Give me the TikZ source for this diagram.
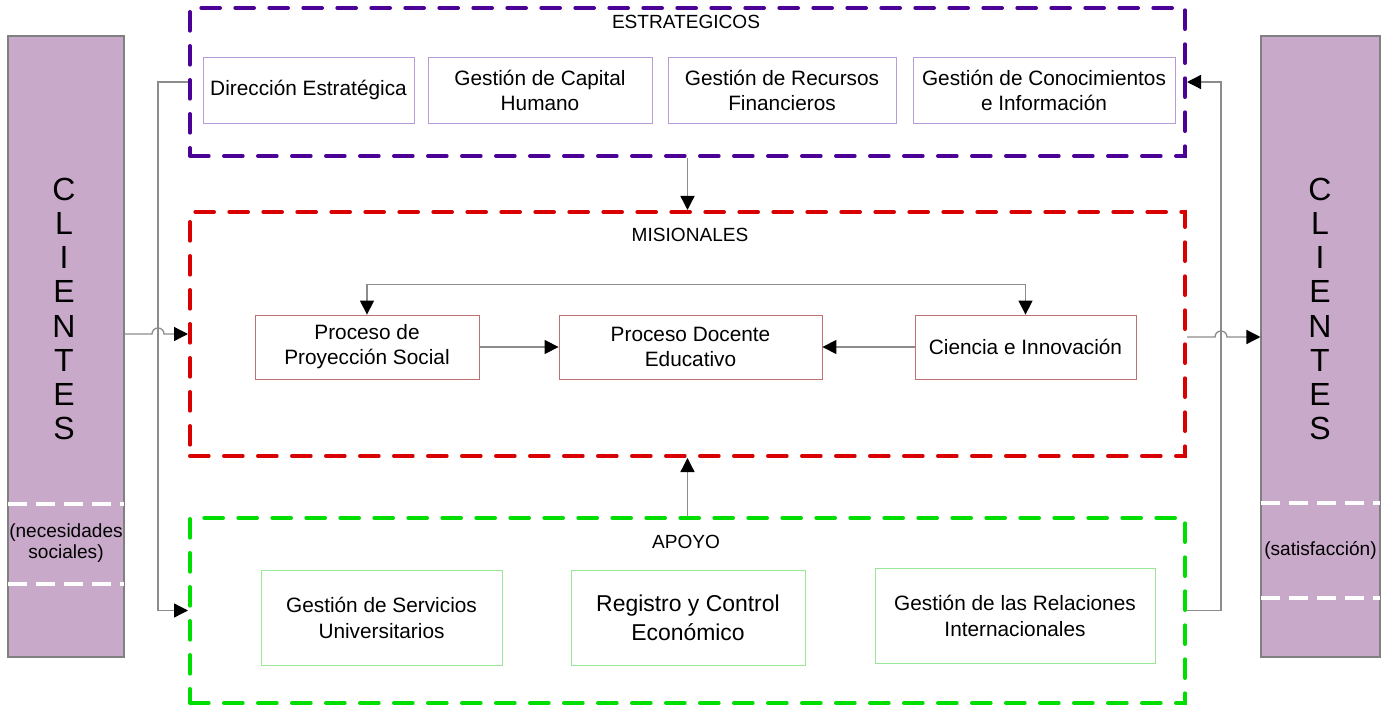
\documentclass[tikz,border=0pt]{standalone}
\usepackage{fontspec}
\setmainfont{Liberation Sans}
\usetikzlibrary{arrows.meta,calc}
\definecolor{barfill}{HTML}{C9A9C9}
\definecolor{barline}{HTML}{808080}
\definecolor{estc}{HTML}{4B0096}
\definecolor{misc}{HTML}{D80000}
\definecolor{apoc}{HTML}{00DD00}
\definecolor{estin}{HTML}{B89CD8}
\definecolor{misin}{HTML}{C07070}
\definecolor{apoin}{HTML}{99E699}
\definecolor{connc}{HTML}{8C8C8C}
\begin{document}
\begin{tikzpicture}[x=0.75pt,y=-0.75pt,
  wh/.style 2 args={minimum width=#1*0.75pt, minimum height=#2*0.75pt},
  clientbar/.style={draw=barline, fill=barfill, line width=0.8pt, inner sep=0pt},
  groupbox/.style={draw=#1, line width=3pt, dash pattern=on 14pt off 11.5pt, line cap=round, inner sep=0pt},
  itembox/.style={draw=#1, line width=0.6pt, fill=white, align=center, inner sep=2pt, font=\fontsize{15.6}{18.8}\selectfont},
  gtitle/.style={font=\fontsize{14.3}{17}\selectfont, inner sep=0pt},
  bartext/.style={font=\fontsize{14.3}{16}\selectfont, align=center, inner sep=0pt},
  letters/.style={font=\fontsize{24}{25.6}\selectfont, align=center, inner sep=0pt},
  wdash/.style={draw=white, line width=2.6pt, dash pattern=on 14pt off 7pt},
  conn/.style={draw=connc, line width=1pt},
  tip/.tip={Triangle[length=10.5pt,width=10.5pt,color=black]}
]
\useasboundingbox (0,0) rectangle (1389,706);

% client bars
\node[clientbar, wh={116}{621}] (cl) at (66,346.5) {};
\node[clientbar, wh={119}{621}] (cr) at (1320.5,346.5) {};
\node[letters] (clt) at (64,309) {C\\L\\I\\E\\N\\T\\E\\S};
\node[letters] (crt) at (1320,309) {C\\L\\I\\E\\N\\T\\E\\S};
\coordinate (cla) at (8,504); \coordinate (clb) at (124,504);
\coordinate (clc) at (8,584); \coordinate (cld) at (124,584);
\draw[wdash] (cla) -- (clb);
\draw[wdash] (clc) -- (cld);
\node[bartext] (clx) at (66,543) {(necesidades\\sociales)};
\coordinate (cra) at (1261,503); \coordinate (crb) at (1380,503);
\coordinate (crc) at (1261,598); \coordinate (crd) at (1380,598);
\draw[wdash] (cra) -- (crb);
\draw[wdash] (crc) -- (crd);
\node[bartext] (crx) at (1320.5,550) {(satisfacción)};

% group boxes
\node[groupbox=estc, wh={995}{148}] (est) at (687.5,82) {};
\node[groupbox=misc, wh={995}{244}] (mis) at (687.5,334) {};
\node[groupbox=apoc, wh={995}{185}] (apo) at (687.5,610.5) {};
\node[gtitle] (estt) at (686,22) {ESTRATEGICOS};
\node[gtitle] (mist) at (690,235) {MISIONALES};
\node[gtitle] (apot) at (686,542) {APOYO};

% strategic items
\node[itembox=estin, wh={211}{66}] (d1) at (308.5,90) {Dirección Estratégica};
\node[itembox=estin, wh={224}{66}] (d2) at (540,90) {Gestión de Capital\\Humano};
\node[itembox=estin, wh={228}{66}] (d3) at (782,90) {Gestión de Recursos\\Financieros};
\node[itembox=estin, wh={262}{66}] (d4) at (1044,90) {Gestión de Conocimientos\\e Información};

% mission items
\node[itembox=misin, wh={224}{64}] (p1) at (367,347) {Proceso de\\Proyección Social};
\node[itembox=misin, wh={263}{64}] (p2) at (690.5,347) {Proceso Docente\\Educativo};
\node[itembox=misin, wh={221}{64}] (p3) at (1025.5,347) {Ciencia e Innovación};

% support items
\node[itembox=apoin, wh={241}{95}, font=\fontsize{15.6}{19.5}\selectfont] (a1) at (381.5,617.5) {Gestión de Servicios\\Universitarios};
\node[itembox=apoin, wh={234}{95}, font=\fontsize{17.2}{21.8}\selectfont] (a2) at (688,617.5) {Registro y Control\\Económico};
\node[itembox=apoin, wh={280}{95}, font=\fontsize{15.6}{19.5}\selectfont] (a3) at (1015,615.5) {Gestión de las Relaciones\\Internacionales};

% connectors
\coordinate (lk) at (158,82);
\coordinate (rk) at (1221,82);
\draw[conn,-tip] (est.west) -- (lk) |- (apo.west);
\draw[conn,-tip] (apo.east) -| (rk) -- (est.east);
\draw[conn,-tip] (cl.east |- mis.west) -- ($(lk |- mis.west)+(-6,0)$)
  arc[start angle=180,end angle=0,radius=4.5pt] -- (mis.west);
\draw[conn,-tip] ($(mis.east)+(0,3)$) -- ($(rk |- mis.east)+(-6,3)$)
  arc[start angle=180,end angle=0,radius=4.5pt] -- ($(cr.west |- mis.east)+(0,3)$);
\draw[conn,-tip] (est.south) -- (mis.north);
\draw[conn,-tip] (apo.north) -- (mis.south);
\draw[conn,-tip] (p1.east) -- (p2.west);
\draw[conn,-tip] (p3.west) -- (p2.east);
\draw[conn,tip-tip] (p1.north) -- ++(0,-30) -| (p3.north);
\end{tikzpicture}
\end{document}
